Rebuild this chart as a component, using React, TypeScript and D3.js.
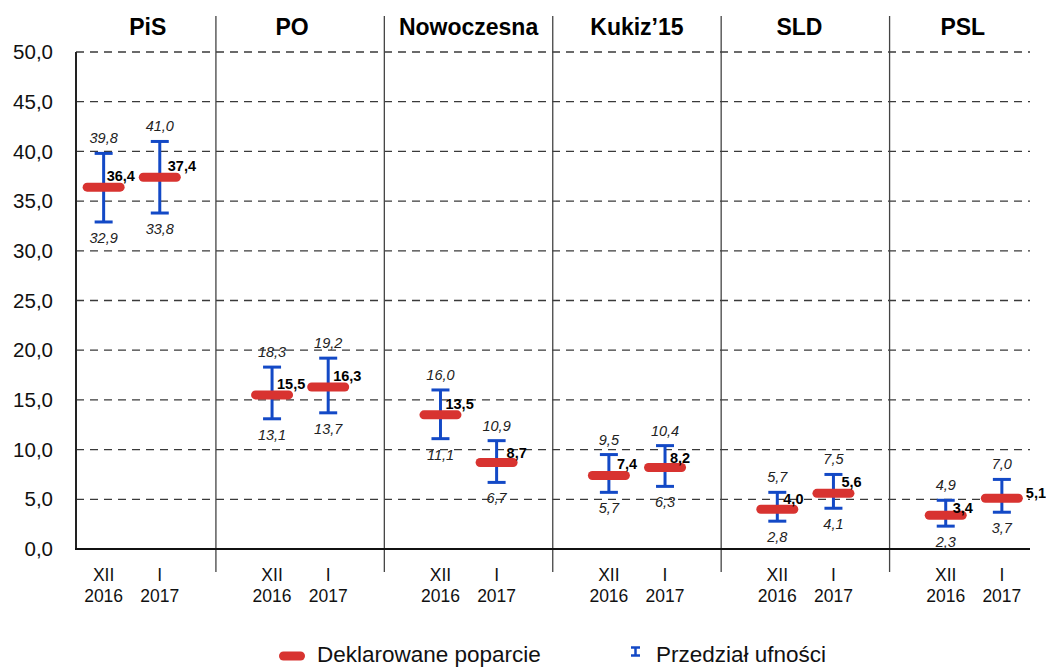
import React from "react";
import * as d3 from "d3";

const parties = ["PiS", "PO", "Nowoczesna", "Kukiz’15", "SLD", "PSL"];
const periods = ["XII 2016", "I 2017"];
const periodMonth = ["XII", "I"];
const periodYear = ["2016", "2017"];
const support2016 = [36.4, 15.5, 13.5, 7.4, 4.0, 3.4];
const support2017 = [37.4, 16.3, 8.7, 8.2, 5.6, 5.1];
const lower2016 = [32.9, 13.1, 11.1, 5.7, 2.8, 2.3];
const upper2016 = [39.8, 18.3, 16.0, 9.5, 5.7, 4.9];
const lower2017 = [33.8, 13.7, 6.7, 6.3, 4.1, 3.7];
const upper2017 = [41.0, 19.2, 10.9, 10.4, 7.5, 7.0];
const yTicks = [0, 5, 10, 15, 20, 25, 30, 35, 40, 45, 50];
const legendLabels = ["Deklarowane poparcie", "Przedział ufności"];

// layout tweaks (not data)
const headerDx = [16, -8, 0, 0, -6, -11];
const labelDx = [
  [3, 8],
  [5, 5],
  [5, 10],
  [8, 5],
  [6, 8],
  [7, 24],
];
const labelDy = [
  [-6, -6],
  [-6, -6],
  [-6, -5],
  [-6, -4],
  [-5, -6],
  [-2, 0],
];

const W = 1046;
const H = 667;
const RED = "#d83330";
const BLUE = "#1349c6";
const fmt = (v: number) => v.toFixed(1).replace(".", ",");

export default function App() {
  const y = d3.scaleLinear().domain([0, 50]).range([549, 52]);
  const xBand = d3.scaleBand<string>().domain(parties).range([47.5, 1058]).padding(0);
  const bw = xBand.bandwidth();
  const xInner = d3.scalePoint<string>().domain(periods).range([0, bw]).padding(1);
  const plotLeft = 76;
  const plotRight = 1030;

  const series = [
    { mean: support2016, lo: lower2016, hi: upper2016 },
    { mean: support2017, lo: lower2017, hi: upper2017 },
  ];

  const font = "'Liberation Sans', Arial, sans-serif";

  return (
    <svg
      width={W}
      height={H}
      style={{ position: "absolute", left: 0, top: 0, background: "#fff" }}
      fontFamily={font}
    >
      <rect x={0} y={0} width={W} height={H} fill="#fff" />
      {/* gridlines */}
      {yTicks.slice(1).map((t) => (
        <line
          key={"g" + t}
          x1={plotLeft}
          x2={plotRight}
          y1={y(t)}
          y2={y(t)}
          stroke="#3a3a3a"
          strokeWidth={1.3}
          strokeDasharray="8,6"
        />
      ))}
      {/* y tick labels */}
      {yTicks.map((t) => (
        <text
          key={"yl" + t}
          x={53}
          y={y(t)}
          dy="0.35em"
          textAnchor="end"
          fontSize={20.5}
          fill="#111"
        >
          {fmt(t)}
        </text>
      ))}
      {/* separators */}
      {parties.slice(1).map((p) => (
        <line
          key={"s" + p}
          x1={xBand(p)!}
          x2={xBand(p)!}
          y1={16}
          y2={572}
          stroke="#444"
          strokeWidth={1.3}
        />
      ))}
      {/* axes */}
      <line x1={plotLeft} x2={plotLeft} y1={y(50)} y2={y(0)} stroke="#222" strokeWidth={2} />
      <line x1={plotLeft - 1} x2={plotRight} y1={y(0)} y2={y(0)} stroke="#111" strokeWidth={2} />
      {/* headers */}
      {parties.map((p, i) => (
        <text
          key={"h" + p}
          x={xBand(p)! + bw / 2 + headerDx[i]}
          y={35}
          textAnchor="middle"
          fontSize={23}
          fontWeight="bold"
          fill="#000"
        >
          {p}
        </text>
      ))}
      {/* x labels */}
      {parties.map((p) =>
        periods.map((per, j) => {
          const cx = xBand(p)! + xInner(per)!;
          return (
            <g key={"xl" + p + per}>
              <text x={cx} y={581} textAnchor="middle" fontSize={17.5} fill="#111">
                {periodMonth[j]}
              </text>
              <text x={cx} y={602} textAnchor="middle" fontSize={17.5} fill="#111">
                {periodYear[j]}
              </text>
            </g>
          );
        })
      )}
      {/* marks */}
      {parties.map((p, i) =>
        periods.map((per, j) => {
          const cx = xBand(p)! + xInner(per)!;
          const s = series[j];
          const m = s.mean[i];
          const lo = s.lo[i];
          const hi = s.hi[i];
          return (
            <g key={"m" + p + per}>
              <line x1={cx} x2={cx} y1={y(lo)} y2={y(hi)} stroke={BLUE} strokeWidth={3} />
              <line x1={cx - 9} x2={cx + 9} y1={y(lo)} y2={y(lo)} stroke={BLUE} strokeWidth={3} />
              <line x1={cx - 9} x2={cx + 9} y1={y(hi)} y2={y(hi)} stroke={BLUE} strokeWidth={3} />
              <line
                x1={cx - 16.5}
                x2={cx + 16.5}
                y1={y(m)}
                y2={y(m)}
                stroke={RED}
                strokeWidth={9}
                strokeLinecap="round"
              />
              <text
                x={cx + labelDx[i][j]}
                y={y(m) + labelDy[i][j]}
                fontSize={14.5}
                fontWeight="bold"
                fill="#000"
              >
                {fmt(m)}
              </text>
              <text
                x={cx}
                y={y(hi) - 10}
                textAnchor="middle"
                fontSize={14.5}
                fontStyle="italic"
                fill="#222"
              >
                {fmt(hi)}
              </text>
              <text
                x={cx}
                y={y(lo) + 21}
                textAnchor="middle"
                fontSize={14.5}
                fontStyle="italic"
                fill="#222"
              >
                {fmt(lo)}
              </text>
            </g>
          );
        })
      )}
      {/* legend */}
      <line x1={283.5} x2={300.5} y1={656} y2={656} stroke={RED} strokeWidth={9} strokeLinecap="round" />
      <text x={317} y={662} fontSize={22.5} fill="#111">
        {legendLabels[0]}
      </text>
      <line x1={635.5} x2={635.5} y1={647} y2={656} stroke={BLUE} strokeWidth={2.5} />
      <line x1={631} x2={640} y1={647.5} y2={647.5} stroke={BLUE} strokeWidth={2.5} />
      <line x1={631} x2={640} y1={655.5} y2={655.5} stroke={BLUE} strokeWidth={2.5} />
      <text x={656} y={662} fontSize={22.5} fill="#111">
        {legendLabels[1]}
      </text>
    </svg>
  );
}
